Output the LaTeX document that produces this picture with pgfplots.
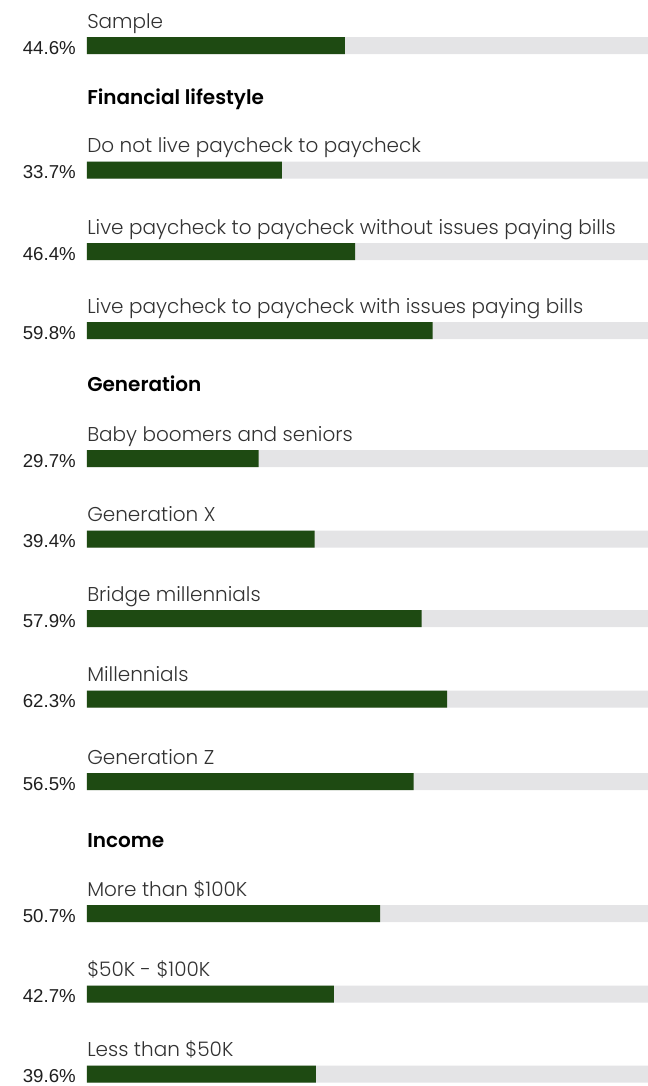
\documentclass[border=0pt]{standalone}
\usepackage{pgfplots}
\pgfplotsset{compat=1.18}
\usepackage{pgfplotstable}
\usepackage{fontspec}
\setmainfont{Liberation Sans}
\newfontfamily\labfont{Poppins Light}
\newfontfamily\hdrfont{Poppins SemiBold}
\definecolor{barg}{RGB}{30,74,18}
\definecolor{bgg}{RGB}{228,228,230}
\definecolor{labc}{RGB}{50,50,50}
\tikzset{
  lab/.style={anchor=base west,inner sep=0pt,text=labc,font=\labfont\fontsize{15}{15}\selectfont},
  hd/.style={anchor=base west,inner sep=0pt,text=black,font=\hdrfont\fontsize{15}{15}\selectfont},
  pc/.style={anchor=base east,inner sep=0pt,text=black!88,font=\fontsize{14}{14}\selectfont}}
\pgfplotstableread{
y val
45.5 44.6
170 33.7
251.5 46.4
330.5 59.8
458.5 29.7
539 39.4
618.5 57.9
699 62.3
781.5 56.5
913.5 50.7
994 42.7
1074 39.6
}\data
\begin{document}
\begin{tikzpicture}
\begin{axis}[width=486pt,height=814.5pt,scale only axis,hide axis,
  xmin=-15.05,xmax=97.06,ymin=0,ymax=1086,y dir=reverse,
  xbar,bar width=12.75pt,bar shift=0pt,clip=false]
\addplot[draw=none,fill=bgg] table[x expr=97.06,y=y]{\data};
\addplot[draw=none,fill=barg] table[x=val,y=y]{\data};
\path (rel axis cs:0,0) rectangle (rel axis cs:1,1);
% category labels
\node[lab] at (axis cs:0,28) {Sample};
\node[lab] at (axis cs:0,152.5) {Do not live paycheck to paycheck};
\node[lab] at (axis cs:0,234) {Live paycheck to paycheck without issues paying bills};
\node[lab] at (axis cs:0,313) {Live paycheck to paycheck with issues paying bills};
\node[lab] at (axis cs:0,441) {Baby boomers and seniors};
\node[lab] at (axis cs:0,521.5) {Generation X};
\node[lab] at (axis cs:0,601) {Bridge millennials};
\node[lab] at (axis cs:0,681.5) {Millennials};
\node[lab] at (axis cs:0,764) {Generation Z};
\node[lab] at (axis cs:0,896) {More than \$100K};
\node[lab] at (axis cs:0,976.5) {\$50K - \$100K};
\node[lab] at (axis cs:0,1056.5) {Less than \$50K};
% headers
\node[hd] at (axis cs:0,104) {Financial lifestyle};
\node[hd] at (axis cs:0,391) {Generation};
\node[hd] at (axis cs:0,847) {Income};
% percentages
\node[pc] at (axis cs:-1.9,54) {44.6\%};
\node[pc] at (axis cs:-1.9,178.5) {33.7\%};
\node[pc] at (axis cs:-1.9,260) {46.4\%};
\node[pc] at (axis cs:-1.9,339) {59.8\%};
\node[pc] at (axis cs:-1.9,467) {29.7\%};
\node[pc] at (axis cs:-1.9,547.5) {39.4\%};
\node[pc] at (axis cs:-1.9,627) {57.9\%};
\node[pc] at (axis cs:-1.9,707.5) {62.3\%};
\node[pc] at (axis cs:-1.9,790) {56.5\%};
\node[pc] at (axis cs:-1.9,922) {50.7\%};
\node[pc] at (axis cs:-1.9,1002.5) {42.7\%};
\node[pc] at (axis cs:-1.9,1082.5) {39.6\%};
\end{axis}
\end{tikzpicture}
\end{document}
